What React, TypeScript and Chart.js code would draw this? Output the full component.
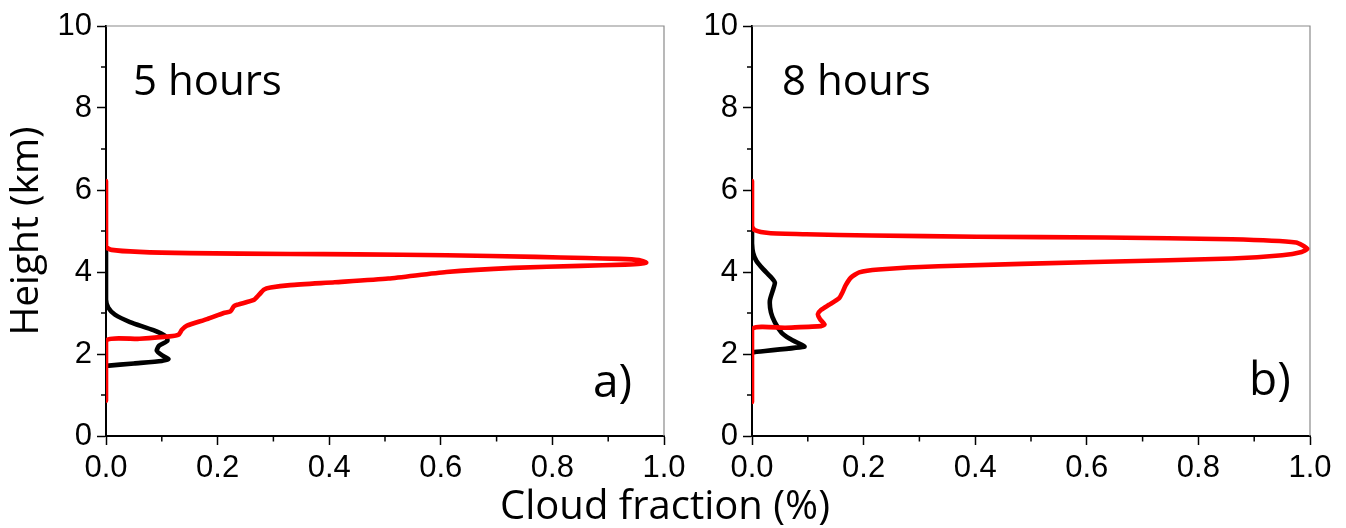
import React, { useEffect, useRef } from 'react';
import { Chart, registerables } from 'chart.js';

Chart.register(...registerables);

// ---- Data (cloud fraction vs height in km) ----
const redA_x = [0, 0, 0.06, 0.114, 0.13, 0.136, 0.145, 0.181, 0.211, 0.223, 0.229, 0.235, 0.265, 0.274, 0.283, 0.295, 0.33, 0.41, 0.506, 0.61, 0.73, 0.85, 0.93, 0.958, 0.968, 0.955, 0.92, 0.86, 0.77, 0.61, 0.45, 0.33, 0.15, 0.06, 0.01, 0, 0];
const redA_h = [0.86, 2.32, 2.37, 2.43, 2.47, 2.59, 2.69, 2.85, 3.0, 3.04, 3.16, 3.2, 3.32, 3.44, 3.57, 3.62, 3.68, 3.75, 3.84, 4.0, 4.1, 4.15, 4.18, 4.2, 4.23, 4.29, 4.32, 4.34, 4.37, 4.41, 4.43, 4.44, 4.46, 4.49, 4.54, 4.62, 6.22];

const blackA_x = [0, 0.05, 0.1, 0.112, 0.1, 0.091, 0.095, 0.11, 0.108, 0.085, 0.043, 0.016, 0.004, 0, 0];
const blackA_h = [1.71, 1.77, 1.83, 1.88, 1.97, 2.08, 2.2, 2.32, 2.42, 2.58, 2.78, 2.96, 3.13, 3.33, 4.52];

const redB_x = [0, 0, 0.06, 0.124, 0.13, 0.122, 0.118, 0.124, 0.138, 0.156, 0.162, 0.168, 0.177, 0.192, 0.227, 0.334, 0.632, 0.86, 0.95, 0.985, 0.995, 0.975, 0.86, 0.632, 0.403, 0.215, 0.097, 0.03, 0.005, 0, 0];
const redB_h = [0.83, 2.6, 2.64, 2.68, 2.72, 2.85, 2.97, 3.08, 3.2, 3.36, 3.5, 3.68, 3.86, 3.99, 4.06, 4.14, 4.25, 4.33, 4.41, 4.49, 4.57, 4.72, 4.8, 4.84, 4.86, 4.89, 4.92, 4.95, 5.02, 5.12, 6.22];

const blackB_x = [0, 0.094, 0.088, 0.067, 0.053, 0.041, 0.034, 0.032, 0.037, 0.041, 0.035, 0.02, 0.008, 0.002, 0, 0];
const blackB_h = [2.04, 2.18, 2.23, 2.38, 2.52, 2.77, 3.01, 3.3, 3.54, 3.74, 3.86, 4.07, 4.27, 4.47, 4.7, 5.0];

const yMinorTicks = [1, 3, 5, 7, 9];
const xMinorTicks = [0.1, 0.3, 0.5, 0.7, 0.9];

const panelTitles = ['5 hours', '8 hours'];
const panelLetters = ['a)', 'b)'];

const RED = '#ff0000';
const BLACK = '#000000';
const TICK_FONT = { family: "'Liberation Sans', Arial, sans-serif", size: 31 };
const TEXT_FONT = "'Open Sans', 'Noto Sans', sans-serif";

function pts(xs: number[], hs: number[]) {
  return xs.map((x, i) => ({ x, y: hs[i] }));
}

const framePlugin = {
  id: 'frame',
  beforeDatasetsDraw(chart: any) {
    const { ctx, chartArea: a } = chart;
    const xs = chart.scales.x;
    const ys = chart.scales.y;
    ctx.save();
    ctx.strokeStyle = '#8a8a8a';
    ctx.lineWidth = 1.2;
    ctx.beginPath();
    ctx.moveTo(a.left, a.top);
    ctx.lineTo(a.right, a.top);
    ctx.lineTo(a.right, a.bottom);
    ctx.stroke();
    ctx.strokeStyle = '#000';
    ctx.lineWidth = 1.5;
    ctx.beginPath();
    yMinorTicks.forEach((v) => {
      const py = ys.getPixelForValue(v);
      ctx.moveTo(a.left - 5, py);
      ctx.lineTo(a.left, py);
    });
    xMinorTicks.forEach((v) => {
      const px = xs.getPixelForValue(v);
      ctx.moveTo(px, a.bottom);
      ctx.lineTo(px, a.bottom + 5.5);
    });
    ctx.stroke();
    ctx.restore();
  },
};

function makeConfig(red: any[], black: any[], yAxisWidth: number, showYTitle: boolean) {
  const line = (data: any[], color: string) => ({
    data,
    showLine: true,
    borderColor: color,
    backgroundColor: color,
    borderWidth: 4.6,
    pointRadius: 0,
    tension: 0.2,
    borderCapStyle: 'round',
    borderJoinStyle: 'round',
    fill: false,
  });
  return {
    type: 'scatter',
    data: { datasets: [line(red, RED), line(black, BLACK)] },
    plugins: [framePlugin],
    options: {
      animation: false,
      responsive: false,
      devicePixelRatio: 1,
      layout: { autoPadding: false, padding: { top: 26, right: 36, left: 0, bottom: 0 } },
      plugins: { legend: { display: false }, tooltip: { enabled: false } },
      scales: {
        x: {
          type: 'linear',
          min: 0,
          max: 1,
          ticks: {
            stepSize: 0.2,
            color: '#000',
            font: TICK_FONT,
            padding: 5,
            maxRotation: 0,
            callback: (v: number) => v.toFixed(1),
          },
          grid: { drawOnChartArea: false, drawTicks: true, tickLength: 9, tickWidth: 1.5, tickColor: '#000' },
          border: { display: true, color: '#000', width: 2 },
          afterFit: (s: any) => { s.height = 92; },
        },
        y: {
          type: 'linear',
          min: 0,
          max: 10,
          ticks: {
            stepSize: 2,
            color: '#000',
            font: TICK_FONT,
            padding: 5,
            callback: (v: number) => String(v),
          },
          grid: { drawOnChartArea: false, drawTicks: true, tickLength: 9, tickWidth: 1.5, tickColor: '#000' },
          border: { display: true, color: '#000', width: 2 },
          title: {
            display: showYTitle,
            text: 'Height (km)',
            color: '#000',
            font: { family: TEXT_FONT, size: 39, lineHeight: 1.2 },
            padding: { top: 3, bottom: 0 },
          },
          afterFit: (s: any) => { s.width = yAxisWidth; },
        },
      },
    },
  } as any;
}

export default function App() {
  const refA = useRef<HTMLCanvasElement>(null);
  const refB = useRef<HTMLCanvasElement>(null);

  useEffect(() => {
    const a = new Chart(refA.current as HTMLCanvasElement, makeConfig(pts(redA_x, redA_h), pts(blackA_x, blackA_h), 106, true));
    const b = new Chart(refB.current as HTMLCanvasElement, makeConfig(pts(redB_x, redB_h), pts(blackB_x, blackB_h), 52, false));
    return () => { a.destroy(); b.destroy(); };
  }, []);

  const textBase: React.CSSProperties = {
    position: 'absolute',
    fontFamily: TEXT_FONT,
    lineHeight: 1,
    whiteSpace: 'nowrap',
    color: '#000',
  };

  return (
    <div style={{ position: 'fixed', left: 0, top: 0, width: 1346, height: 528, background: '#fff', overflow: 'hidden' }}>
      <canvas ref={refA} width={700} height={528} style={{ position: 'absolute', left: 0, top: 0, width: 700, height: 528 }} />
      <canvas ref={refB} width={646} height={528} style={{ position: 'absolute', left: 700, top: 0, width: 646, height: 528 }} />
      <span style={{ ...textBase, left: 133, top: 58, fontSize: 42 }}>{panelTitles[0]}</span>
      <span style={{ ...textBase, left: 782, top: 58, fontSize: 42 }}>{panelTitles[1]}</span>
      <span style={{ ...textBase, left: 593, top: 356, fontSize: 46 }}>{panelLetters[0]}</span>
      <span style={{ ...textBase, left: 1249, top: 354, fontSize: 46 }}>{panelLetters[1]}</span>
      <span style={{ ...textBase, left: 500, top: 484, fontSize: 40 }}>Cloud fraction (%)</span>
    </div>
  );
}
